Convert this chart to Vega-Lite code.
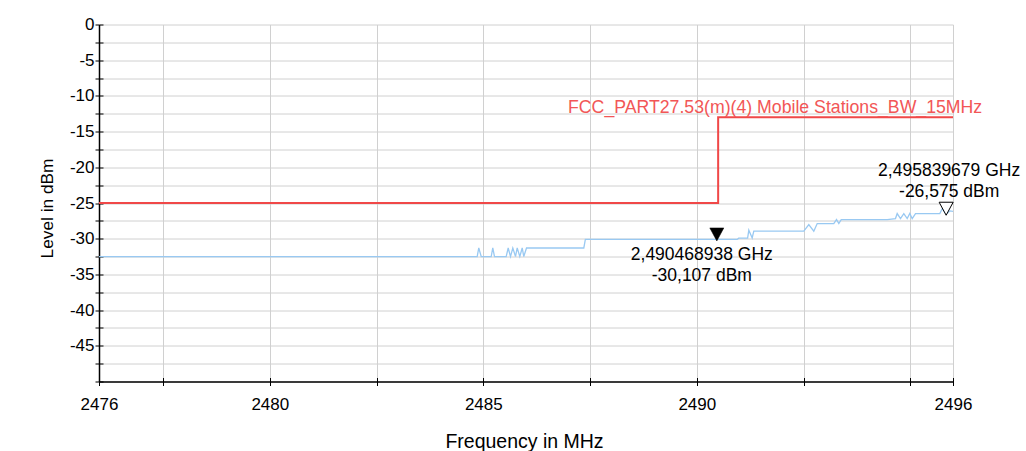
{
  "$schema": "https://vega.github.io/schema/vega-lite/v6.json",
  "width": 854,
  "height": 357,
  "autosize": {"type": "none"},
  "padding": {"left": 99, "top": 24.5, "right": 73, "bottom": 69.5},
  "background": "white",
  "config": {"view": {"stroke": null}, "font": "Liberation Sans"},
  "datasets": {
    "trace": [
      {"f": 2476, "level": -32.5},
      {"f": 2484.857, "level": -32.5},
      {"f": 2484.894, "level": -31.3},
      {"f": 2484.951, "level": -32.5},
      {"f": 2485.185, "level": -32.5},
      {"f": 2485.222, "level": -31.3},
      {"f": 2485.262, "level": -32.5},
      {"f": 2485.536, "level": -32.5},
      {"f": 2485.583, "level": -31.3},
      {"f": 2485.637, "level": -32.5},
      {"f": 2485.691, "level": -31.3},
      {"f": 2485.754, "level": -32.5},
      {"f": 2485.794, "level": -31.3},
      {"f": 2485.855, "level": -32.5},
      {"f": 2485.911, "level": -31.3},
      {"f": 2485.948, "level": -32.5},
      {"f": 2486.012, "level": -31.3},
      {"f": 2487.354, "level": -31.3},
      {"f": 2487.39, "level": -30.1},
      {"f": 2490.946, "level": -30.1},
      {"f": 2490.98, "level": -29.93},
      {"f": 2491.19, "level": -29.93},
      {"f": 2491.218, "level": -28.81},
      {"f": 2491.297, "level": -29.9},
      {"f": 2491.335, "level": -28.95},
      {"f": 2492.506, "level": -28.95},
      {"f": 2492.623, "level": -28.02},
      {"f": 2492.74, "level": -28.95},
      {"f": 2492.82, "level": -27.88},
      {"f": 2493.208, "level": -27.88},
      {"f": 2493.272, "level": -27.32},
      {"f": 2493.326, "level": -27.88},
      {"f": 2493.382, "level": -27.32},
      {"f": 2494.459, "level": -27.32},
      {"f": 2494.653, "level": -27.18},
      {"f": 2494.693, "level": -26.48},
      {"f": 2494.77, "level": -27.18},
      {"f": 2494.848, "level": -26.48},
      {"f": 2494.927, "level": -27.18},
      {"f": 2494.988, "level": -26.48},
      {"f": 2495.044, "level": -27.18},
      {"f": 2495.122, "level": -26.48},
      {"f": 2495.691, "level": -26.48},
      {"f": 2495.747, "level": -25.8},
      {"f": 2495.84, "level": -26.575},
      {"f": 2495.93, "level": -26.1},
      {"f": 2496, "level": -26.16}
    ],
    "limit": [
      {"f": 2476, "level": -25},
      {"f": 2490.5, "level": -25},
      {"f": 2490.5, "level": -13},
      {"f": 2496, "level": -13}
    ],
    "limitLabel": [
      {"f": 2496, "level": -13, "label": "FCC_PART27.53(m)(4) Mobile Stations_BW_15MHz"}
    ],
    "markers": [
      {"marker": "M1", "f": 2490.468938, "level": -30.107, "label": "2,490468938 GHz\n-30,107 dBm"},
      {"marker": "M2", "f": 2495.839679, "level": -26.575, "label": "2,495839679 GHz\n-26,575 dBm"}
    ]
  },
  "resolve": {"axis": {"x": "independent", "y": "independent"}},
  "layer": [
    {
      "data": {"name": "trace"},
      "mark": {"type": "line", "color": "#99c9f2", "strokeWidth": 1.3, "clip": true},
      "encoding": {
        "x": {
          "field": "f", "type": "quantitative",
          "scale": {"domain": [2476, 2496], "nice": false, "zero": false},
          "axis": {
            "values": [2476, 2477.5, 2480, 2482.5, 2485, 2487.5, 2490, 2492.5, 2495, 2496],
            "labelExpr": "indexof([2476,2480,2485,2490,2496], datum.value) >= 0 ? '' + datum.value : ''",
            "title": "Frequency in MHz",
            "grid": true, "gridColor": "#d0d0d0", "gridWidth": 1,
            "domainColor": "black", "domainWidth": 1.5,
            "tickColor": "black", "tickSize": 4, "tickWidth": 1,
            "labelFontSize": 17, "labelColor": "black", "labelFlush": false,
            "labelOverlap": false, "labelBound": false, "labelPadding": 24,
            "labelBaseline": "alphabetic",
            "titleFontSize": 19.5, "titleFontWeight": "normal", "titleColor": "black",
            "titleBaseline": "alphabetic", "titleX": 425, "titleY": 65.5, "titleAlign": "center"
          }
        },
        "y": {
          "field": "level", "type": "quantitative",
          "scale": {"domain": [-50, 0], "nice": false, "zero": false},
          "axis": {
            "values": [0, -2.5, -5, -7.5, -10, -12.5, -15, -17.5, -20, -22.5, -25, -27.5, -30, -32.5, -35, -37.5, -40, -42.5, -45, -47.5, -50],
            "labelExpr": "(datum.value % 5 == 0 && datum.value > -50) ? '' + datum.value : ''",
            "title": "Level in dBm",
            "grid": true, "gridColor": "#d0d0d0", "gridWidth": 1,
            "domainColor": "black", "domainWidth": 1.5,
            "tickColor": "black", "tickSize": 4, "tickWidth": 1,
            "labelFontSize": 17, "labelColor": "black", "labelPadding": 1,
            "labelOverlap": false, "labelBound": false, "labelFlush": false,
            "titleFontSize": 17.3, "titleFontWeight": "normal", "titleColor": "black",
            "titleAngle": 270, "titleBaseline": "alphabetic", "titleX": -47, "titleY": 183.5, "titleAlign": "center"
          }
        },
        "order": {"value": null}
      }
    },
    {
      "data": {"name": "limit"},
      "mark": {"type": "line", "color": "#f04848", "strokeWidth": 2},
      "encoding": {
        "x": {
          "field": "f", "type": "quantitative",
          "axis": {
            "orient": "bottom",
            "values": [2476, 2477.5, 2480, 2482.5, 2485, 2487.5, 2490, 2492.5, 2495, 2496],
            "tickSize": -4, "tickColor": "black", "tickWidth": 1,
            "labels": false, "domain": false, "grid": false, "title": null
          }
        },
        "y": {
          "field": "level", "type": "quantitative",
          "axis": {
            "orient": "left",
            "values": [0, -2.5, -5, -7.5, -10, -12.5, -15, -17.5, -20, -22.5, -25, -27.5, -30, -32.5, -35, -37.5, -40, -42.5, -45, -47.5, -50],
            "tickSize": -4, "tickColor": "black", "tickWidth": 1,
            "labels": false, "domain": false, "grid": false, "title": null
          }
        },
        "order": {"value": null}
      }
    },
    {
      "data": {"name": "limitLabel"},
      "mark": {"type": "text", "color": "#f25656", "fontSize": 17.7, "align": "right", "baseline": "alphabetic", "dx": 29.2, "dy": -4.2},
      "encoding": {
        "x": {"field": "f", "type": "quantitative", "axis": null},
        "y": {"field": "level", "type": "quantitative", "axis": null},
        "text": {"field": "label", "type": "nominal"}
      }
    },
    {
      "data": {"name": "markers"},
      "transform": [{"filter": "datum.marker == 'M1'"}],
      "mark": {"type": "point", "shape": "M-1,-1.86L1,-1.86L0,0Z", "size": 196, "filled": true, "fill": "black", "stroke": "black", "strokeWidth": 0.5, "opacity": 1, "yOffset": 1.5},
      "encoding": {
        "x": {"field": "f", "type": "quantitative", "axis": null},
        "y": {"field": "level", "type": "quantitative", "axis": null}
      }
    },
    {
      "data": {"name": "markers"},
      "transform": [{"filter": "datum.marker == 'M2'"}],
      "mark": {"type": "point", "shape": "M-1,-1.86L1,-1.86L0,0Z", "size": 196, "filled": true, "fill": "white", "stroke": "black", "strokeWidth": 1, "opacity": 1, "yOffset": 1},
      "encoding": {
        "x": {"field": "f", "type": "quantitative", "axis": null},
        "y": {"field": "level", "type": "quantitative", "axis": null}
      }
    },
    {
      "data": {"name": "markers"},
      "transform": [{"filter": "datum.marker == 'M1'"}],
      "mark": {"type": "text", "lineBreak": "\n", "fontSize": 17.5, "lineHeight": 21, "align": "center", "baseline": "alphabetic", "color": "black", "dx": -15, "dy": 20.7},
      "encoding": {
        "x": {"field": "f", "type": "quantitative", "axis": null},
        "y": {"field": "level", "type": "quantitative", "axis": null},
        "text": {"field": "label", "type": "nominal"}
      }
    },
    {
      "data": {"name": "markers"},
      "transform": [{"filter": "datum.marker == 'M2'"}],
      "mark": {"type": "text", "lineBreak": "\n", "fontSize": 17.5, "lineHeight": 21, "align": "center", "baseline": "alphabetic", "color": "black", "dx": 3, "dy": -38},
      "encoding": {
        "x": {"field": "f", "type": "quantitative", "axis": null},
        "y": {"field": "level", "type": "quantitative", "axis": null},
        "text": {"field": "label", "type": "nominal"}
      }
    }
  ]
}
